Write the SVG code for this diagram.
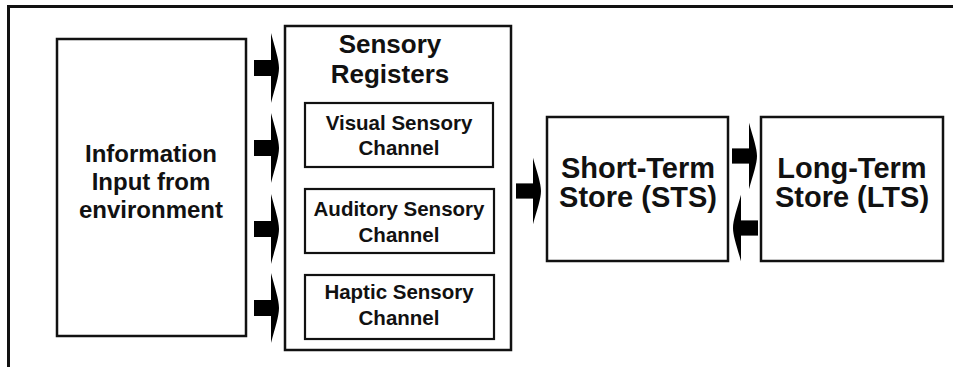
<svg xmlns="http://www.w3.org/2000/svg" width="953" height="367" viewBox="0 0 953 367">
<style>
.box{fill:#fff;stroke:#111;stroke-width:2.5}
.inner{fill:#fff;stroke:#111;stroke-width:2.2}
.t{font-family:"Liberation Sans",Arial,sans-serif;font-weight:bold;fill:#111;text-anchor:middle}
.arrow{fill:#000}
</style>
<defs>
<g id="arr">
<rect x="-25" y="-8" width="18" height="16"/>
<path d="M-8,-35 C-4,-20 0,-8 0,0 C0,8 -4,20 -8,35 Z"/>
</g>
</defs>
<rect width="953" height="367" fill="#fff"/>
<path d="M8.5,367 V6.5 H953" fill="none" stroke="#111" stroke-width="3"/>
<g id="info">
<rect class="box" x="57" y="39" width="189" height="297"/>
<text class="t" font-size="24" x="151" y="162">Information</text>
<text class="t" font-size="24" x="151" y="190">Input from</text>
<text class="t" font-size="24" x="151" y="218">environment</text>
</g>
<g id="sensory">
<rect class="box" x="285" y="26" width="226" height="324"/>
<text class="t" font-size="26" x="390" y="53">Sensory</text>
<text class="t" font-size="26" x="390" y="83">Registers</text>
</g>
<g id="visual">
<rect class="inner" x="305" y="103" width="188" height="64"/>
<text class="t" font-size="20.5" x="399" y="130">Visual Sensory</text>
<text class="t" font-size="20.5" x="399" y="155">Channel</text>
</g>
<g id="auditory">
<rect class="inner" x="305" y="189" width="189" height="64"/>
<text class="t" font-size="20.5" x="399" y="216">Auditory Sensory</text>
<text class="t" font-size="20.5" x="399" y="242">Channel</text>
</g>
<g id="haptic">
<rect class="inner" x="305" y="275" width="189" height="64"/>
<text class="t" font-size="20.5" x="399" y="299">Haptic Sensory</text>
<text class="t" font-size="20.5" x="399" y="325">Channel</text>
</g>
<g id="sts">
<rect class="box" x="547" y="117" width="181" height="144"/>
<text class="t" font-size="29" x="638" y="178">Short-Term</text>
<text class="t" font-size="29" x="638" y="207">Store (STS)</text>
</g>
<g id="lts">
<rect class="box" x="761" y="117" width="182" height="144"/>
<text class="t" font-size="29" x="852" y="178">Long-Term</text>
<text class="t" font-size="29" x="852" y="207">Store (LTS)</text>
</g>
<g id="connectors" class="arrow">
<use href="#arr" transform="translate(279,68)"/>
<use href="#arr" transform="translate(279,148)"/>
<use href="#arr" transform="translate(279,229)"/>
<use href="#arr" transform="translate(279,308)"/>
<use href="#arr" transform="translate(541,191) scale(1,0.95)"/>
<use href="#arr" transform="translate(757,156) scale(1,0.95)"/>
<use href="#arr" transform="translate(733,228) scale(-1,0.95)"/>
</g>
</svg>
